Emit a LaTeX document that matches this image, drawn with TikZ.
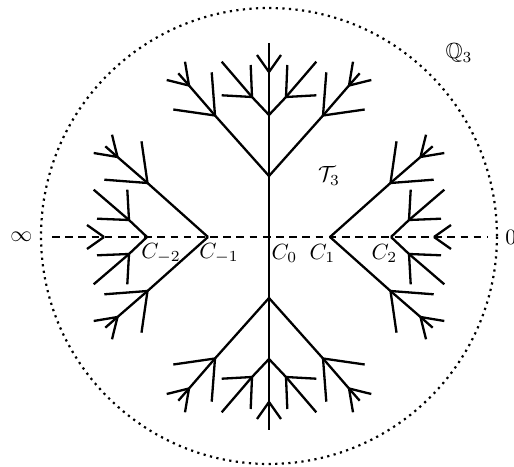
\documentclass[tikz,border=0pt]{standalone}
\usepackage{amssymb}
\tikzset{
  br/.style={line width=1.05pt},
  axisline/.style={line width=1.05pt, dash pattern=on 3.5pt off 2.5pt},
  bound/.style={line width=1pt, dotted},
  lab/.style={inner sep=0pt, anchor=center}
}
\newcommand\halfbranch{%
  % level 2 side vertex S and its subtree
  \draw[br] (0,-61) -- (-54,-121.5) coordinate (S);
  \draw[br] (S) -- (-95.7,-127.5);
  \draw[br] (S) -- (-57.3,-164.7);
  \draw[br] (S) -- (-80,-151.5) coordinate (T);
  \draw[br] (T) -- (-102.3,-157);
  \draw[br] (T) -- (-84,-175.3);
  \draw[br] (T) -- (-90.7,-163.7);
  % level 3 side vertex V on the spine
  \draw[br] (0,-122) -- (-17,-140) coordinate (V);
  \draw[br] (V) -- (-47.3,-175.3);
  \draw[br] (V) -- (-47.3,-141.7);
  \draw[br] (V) -- (-18.3,-172);
  % prong at U3
  \draw[br] (0,-165) -- (-12,-182);
}
\newcommand\fullbranch{%
  \halfbranch
  \begin{scope}[xscale=-1]\halfbranch\end{scope}
}
\begin{document}
\begin{tikzpicture}[x=0.4553pt,y=-0.4553pt]
\useasboundingbox (0,0) rectangle (514,467);
\coordinate (O) at (269,237);
% bounding circle
\draw[bound] (269,236) circle[radius=103.8pt];
% branches
\begin{scope}[shift={(O)}]
  \fullbranch
  \begin{scope}[rotate=90]\fullbranch\end{scope}
  \begin{scope}[rotate=-90]\fullbranch\end{scope}
  \begin{scope}[rotate=180]\fullbranch\end{scope}
  \draw[br] (0,-194) coordinate (top) -- (0,193) coordinate (bot);
\end{scope}
% horizontal axis
\coordinate (west) at (52,237);
\coordinate (east) at (487,237);
\draw[axisline] (west) -- (east);
% labels
\node[lab] (inf) at (21.3,236.7) {$\infty$};
\node[lab] (zero) at (510.8,237) {$0$};
\node[lab] (cm2) at (161,253.5) {$C_{-2}$};
\node[lab] (cm1) at (219,253.5) {$C_{-1}$};
\node[lab] (c0) at (284.5,253.5) {$C_{0}$};
\node[lab] (c1) at (322.5,253.5) {$C_{1}$};
\node[lab] (c2) at (384.5,253.5) {$C_{2}$};
\node[lab] (tree) at (329,176) {$\mathcal{T}_3$};
\node[lab] (field) at (459,53) {$\mathbb{Q}_3$};
\end{tikzpicture}
\end{document}
